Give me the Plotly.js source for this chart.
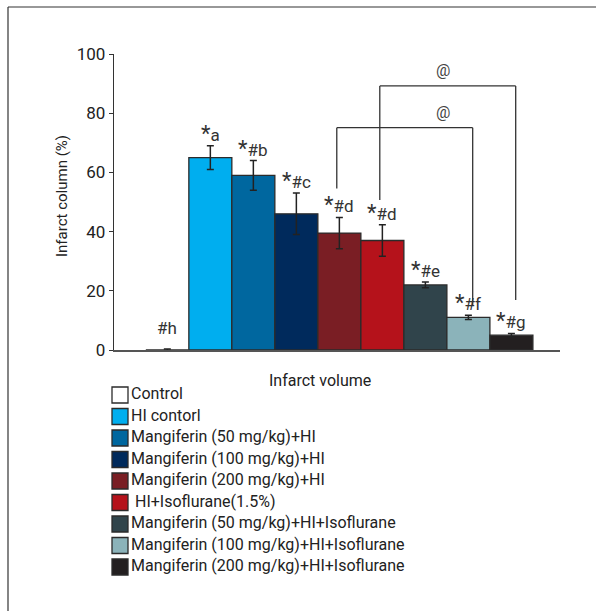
<!DOCTYPE html>
<html><head><meta charset="utf-8">
<script src="https://cdn.plot.ly/plotly-3.0.1.min.js"></script>
<style>body{margin:0;background:#fff}#chart{width:596px;height:611px}</style>
</head><body><div id="chart"></div>
<script>
const groups = ["Control","HI contorl","Mangiferin (50 mg/kg)+HI","Mangiferin (100 mg/kg)+HI","Mangiferin (200 mg/kg)+HI"," HI+Isoflurane(1.5%)","Mangiferin (50 mg/kg)+HI+Isoflurane","Mangiferin (100 mg/kg)+HI+Isoflurane","Mangiferin (200 mg/kg)+HI+Isoflurane"];
const values = [0, 65, 59, 46, 39.5, 37, 22, 11, 5];
const errors = [0.3, 4, 5, 7, 5.3, 5.3, 1, 0.7, 0.6];
const sigStars = ["","*","*","*","*","*","*","*","*"];
const sigLetters = ["#h","a","#b","#c","#d","#d","#e","#f","#g"];
const colors = ["#ffffff","#00aeef","#00679f","#002a5c","#7a1e24","#b5121b","#30444b","#8bb3ba","#231f20"];
const yTicks = [0,20,40,60,80,100];
// brackets: [leftBar, rightBar, topY, leftBottomY, rightBottomY, labelX]
const brackets = [[4, 7, 75.1, 54.6, 15.2, 6.4],[5, 8, 89.2, 50.7, 16.9, 6.4]];
const bracketLabel = "@";
const xTitle = "Infarct volume";
const yTitle = "Infarct column (%)";

const FONT = "Roboto, sans-serif";
const W = 596, H = 611;
const px = v => v / W, py = v => 1 - v / H;

const traces = groups.map((g,i)=>({
  type:'bar', x:[i], y:[values[i]], name:g, width:1, showlegend:false,
  marker:{color:colors[i], line:{color:'#2b2b2b', width:1.3}},
  error_y:{type:'data', array:[errors[i]], visible:true, color:'#222', thickness:1.5, width:3.5},
  hoverinfo:'skip'
}));
// legend drawn as a marker column on its own axes
traces.push({
  type:'scatter', mode:'markers+text', xaxis:'x2', yaxis:'y2',
  x:groups.map(()=>0), y:groups.map((g,i)=>i), text:groups,
  textposition:'middle right', textfont:{family:FONT, size:16, color:'#222'},
  marker:{symbol:'square', size:16, color:colors, line:{color:'#2b2b2b', width:1.3}},
  showlegend:false, hoverinfo:'skip', cliponaxis:false
});

const annotations = sigLetters.map((t,i)=>({
  x:i, y:values[i]+errors[i], xref:'x', yref:'y',
  text:(sigStars[i] ? "<span style='font-size:22px'>" + sigStars[i] + "</span>" : "") + t,
  showarrow:false, yanchor:'bottom', yshift: i===0 ? 9 : -2, font:{family:FONT, size:17, color:'#333'}
}));
const shapes = [];
brackets.forEach(b=>{
  const l = b[0]-0.06, r = b[1]+0.1;
  shapes.push({type:'line', xref:'x', yref:'y', x0:l, x1:l, y0:b[3], y1:b[2], line:{color:'#333', width:1.3}});
  shapes.push({type:'line', xref:'x', yref:'y', x0:l, x1:r, y0:b[2], y1:b[2], line:{color:'#333', width:1.3}});
  shapes.push({type:'line', xref:'x', yref:'y', x0:r, x1:r, y0:b[2], y1:b[4], line:{color:'#333', width:1.3}});
  annotations.push({x:b[5], y:b[2], xref:'x', yref:'y', text:bracketLabel, showarrow:false,
    yanchor:'bottom', yshift:4, font:{family:FONT, size:16, color:'#444'}});
});
// frame lines (top and left)
shapes.push({type:'line', xref:'paper', yref:'paper', x0:px(8), x1:1.05, y0:py(7), y1:py(7), line:{color:'#333', width:1.2}});
shapes.push({type:'line', xref:'paper', yref:'paper', x0:px(8), x1:px(8), y0:py(7), y1:-0.05, line:{color:'#333', width:1.2}});

annotations.push({xref:'paper', yref:'paper', x:px(320), y:py(380), text:xTitle, showarrow:false,
  xanchor:'center', yanchor:'middle', font:{family:FONT, size:16, color:'#222'}});
annotations.push({xref:'paper', yref:'paper', x:px(62), y:py(196), text:yTitle, showarrow:false,
  textangle:-90, xanchor:'center', yanchor:'middle', font:{family:FONT, size:15, color:'#222'}});

const layout = {
  width:W, height:H,
  margin:{l:0, r:0, t:0, b:0, pad:0, autoexpand:false},
  paper_bgcolor:'#fff', plot_bgcolor:'rgba(0,0,0,0)',
  barmode:'group', bargap:0, showlegend:false,
  xaxis:{domain:[px(114), px(560)], range:[-1.24, 9.13], showline:true, linecolor:'#555', linewidth:1.5,
    showticklabels:false, ticks:'', showgrid:false, zeroline:false, fixedrange:true, anchor:'y'},
  yaxis:{domain:[py(350), py(54)], range:[0,100], tickvals:yTicks, showline:true, linecolor:'#333', linewidth:1.3,
    ticks:'outside', ticklen:4, tickcolor:'#333', showgrid:false, zeroline:false, anchor:'x',
    tickfont:{family:FONT, size:17, color:'#222'}},
  xaxis2:{domain:[0,1], range:[-120, 476], visible:false, anchor:'y2'},
  yaxis2:{domain:[0,1], range:[(H-395)/21.5, -395/21.5], visible:false, anchor:'x2'},
  annotations:annotations, shapes:shapes
};
Plotly.newPlot('chart', traces, layout, {displayModeBar:false, staticPlot:true});
</script></body></html>
